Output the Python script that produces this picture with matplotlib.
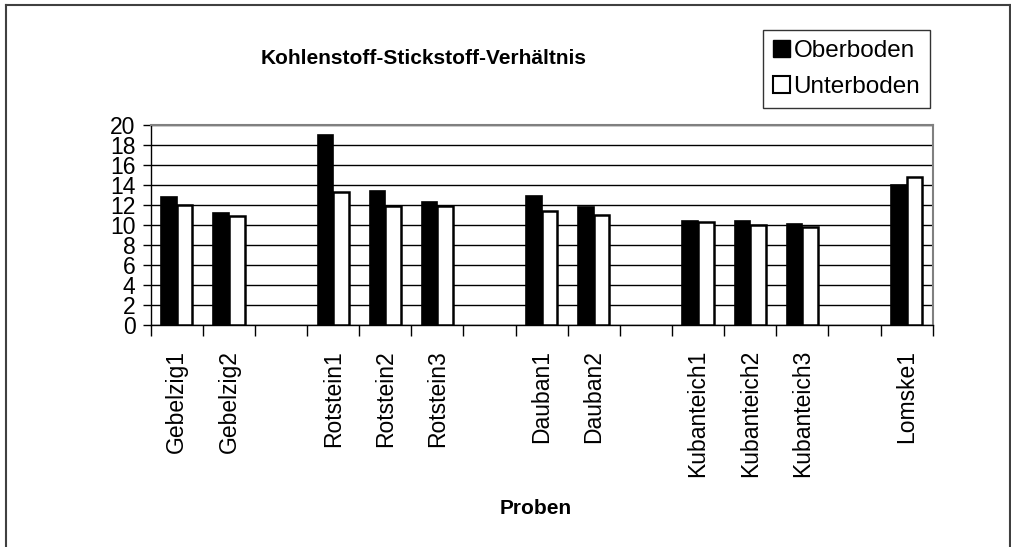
import matplotlib
matplotlib.use("Agg")
import matplotlib.pyplot as plt
from matplotlib.lines import Line2D
from matplotlib.patches import Patch
import numpy as np

plt.rcParams['font.family'] = ['Liberation Sans', 'DejaVu Sans']

nan = float('nan')
categories = ["Gebelzig1", "Gebelzig2", "", "Rotstein1", "Rotstein2", "Rotstein3", "",
              "Dauban1", "Dauban2", "", "Kubanteich1", "Kubanteich2", "Kubanteich3", "",
              "Lomske1"]
oberboden = [12.8, 11.2, nan, 19.0, 13.4, 12.3, nan, 12.9, 11.8, nan, 10.4, 10.4, 10.1, nan, 14.0]
unterboden = [12.0, 10.9, nan, 13.3, 11.9, 11.9, nan, 11.4, 11.0, nan, 10.3, 10.0, 9.8, nan, 14.8]
yticks = list(range(0, 21, 2))

W, H = 1012, 547
fig = plt.figure(figsize=(W / 100, H / 100), dpi=100)
ax = fig.add_axes([150.7 / W, 1 - 325 / H, (932.7 - 150.7) / W, 200 / H])

x = np.arange(len(categories))
bw = 0.3
ax.bar(x - bw / 2, oberboden, width=bw, color='black', edgecolor='black', linewidth=1.2, zorder=3)
ax.bar(x + bw / 2, unterboden, width=bw, color='white', edgecolor='black', linewidth=1.8, zorder=3)

ax.set_xlim(-0.5, len(categories) - 0.5)
ax.set_ylim(0, 20)
ax.set_yticks(yticks)
ax.set_yticklabels([str(v) for v in yticks], fontsize=16.5)
ax.yaxis.grid(True, color='black', linewidth=1.0, zorder=0)
ax.set_axisbelow(True)

ax.set_xticks(x)
ax.set_xticklabels(categories, rotation=90, fontsize=16.5)
ax.tick_params(axis='x', length=0, pad=18)
ax.set_xticks(np.arange(-0.5, len(categories)), minor=True)
ax.tick_params(axis='x', which='minor', length=8, width=1, direction='out')
ax.tick_params(axis='y', length=6, width=1, direction='out', pad=5)

for s in ['left', 'bottom']:
    ax.spines[s].set_color('black')
    ax.spines[s].set_linewidth(1.0)
for s in ['top', 'right']:
    ax.spines[s].set_color('#808080')
    ax.spines[s].set_linewidth(1.5)

fig.text(424 / W, 1 - 58 / H, "Kohlenstoff-Stickstoff-Verhältnis", ha='center', va='center',
         fontsize=15, fontweight='bold')
fig.text(536 / W, 1 - 508 / H, "Proben", ha='center', va='center', fontsize=15, fontweight='bold')

handles = [Patch(facecolor='black', edgecolor='black', label='Oberboden'),
           Patch(facecolor='white', edgecolor='black', linewidth=1.5, label='Unterboden')]
leg = fig.legend(handles=handles, loc='upper left', bbox_to_anchor=(763 / W, 1 - 30 / H),
                 fontsize=17.5, frameon=True, fancybox=False, edgecolor='black',
                 handlelength=0.7, handleheight=0.7, handletextpad=0.15,
                 borderpad=0.4, labelspacing=0.6, borderaxespad=0)
leg.get_frame().set_linewidth(1.0)

bc = '#404040'
fig.add_artist(Line2D([6.5 / W, 6.5 / W], [0, 1 - 5 / H], color=bc, linewidth=1.5, transform=fig.transFigure))
fig.add_artist(Line2D([1010.5 / W, 1010.5 / W], [0, 1 - 5 / H], color=bc, linewidth=1.5, transform=fig.transFigure))
fig.add_artist(Line2D([6.5 / W, 1010.5 / W], [1 - 5 / H, 1 - 5 / H], color=bc, linewidth=1.5, transform=fig.transFigure))

fig.savefig("out.png", dpi=100)
